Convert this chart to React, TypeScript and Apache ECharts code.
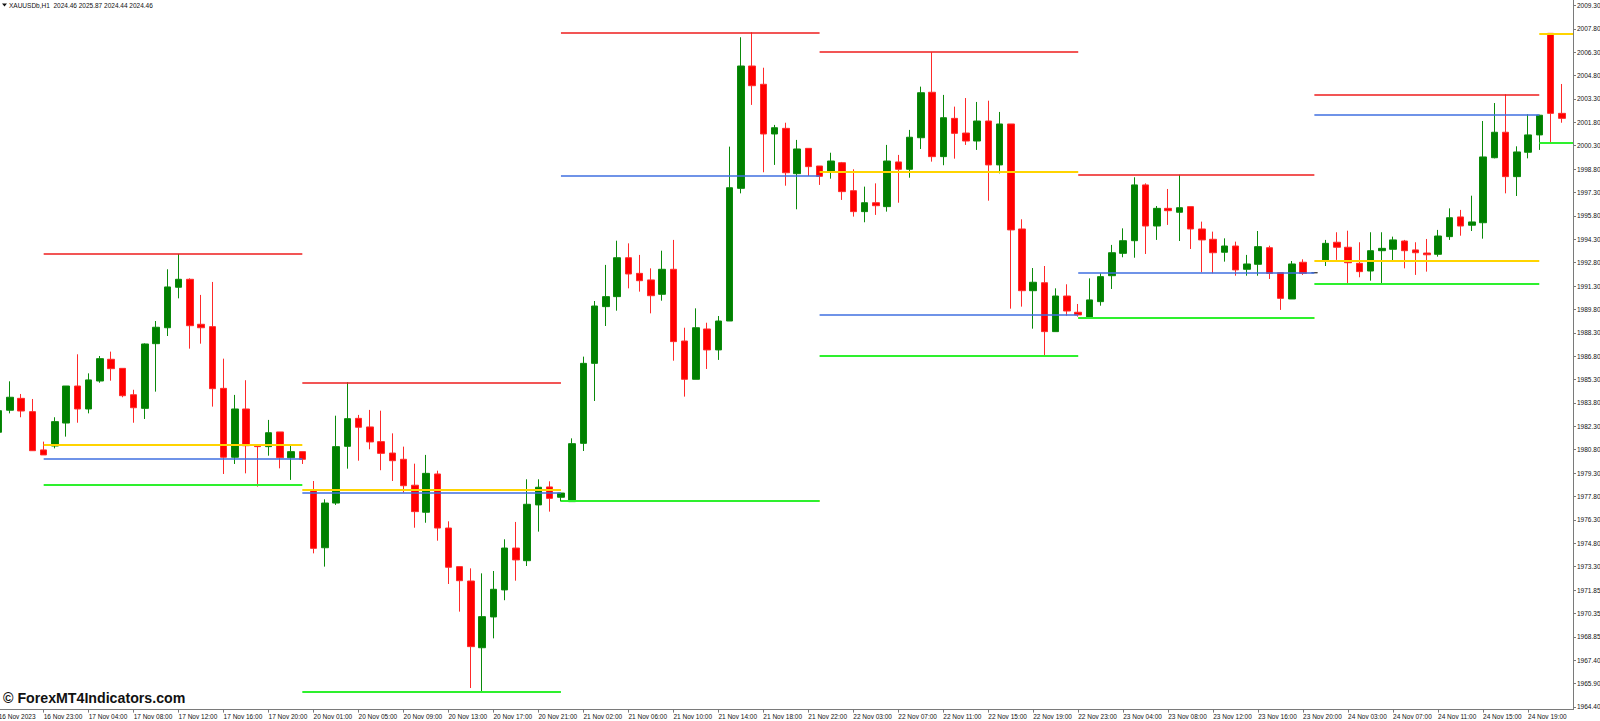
import React, { useEffect, useRef } from "react";
import * as echarts from "echarts";

// ---- candle data (H1 XAUUSD), bar index 0..139 ----
const barOpen = [
  1981.98, 1983.39, 1984.15, 1983.30, 1980.85, 1981.10, 1982.57, 1984.94, 1983.47, 1985.26,
  1986.65, 1986.07, 1984.38, 1983.51, 1987.65, 1988.67, 1991.26, 1991.77, 1988.89, 1988.74,
  1984.79, 1980.38, 1983.47, 1981.17, 1981.06, 1982.00, 1980.35, 1980.74, 1978.27, 1974.59,
  1977.45, 1981.08, 1982.87, 1982.32, 1981.38, 1980.65, 1980.25, 1978.59, 1976.86, 1979.31,
  1975.85, 1973.38, 1972.46, 1968.19, 1970.16, 1971.89, 1974.57, 1973.76, 1977.33, 1978.48,
  1977.82, 1977.54, 1981.27, 1986.39, 1990.02, 1990.66, 1993.15, 1992.15, 1991.73, 1990.81,
  1992.41, 1987.82, 1985.37, 1988.59, 1987.25, 1989.10, 1997.59, 2005.42, 2004.25, 2001.07,
  2001.43, 1998.53, 2000.15, 1999.02, 1998.62, 1999.23, 1997.44, 1996.10, 1996.67, 1996.42,
  1999.28, 1998.81, 2000.83, 2003.74, 1999.62, 2002.07, 2001.13, 2000.62, 2001.90, 1999.09,
  2001.71, 1994.99, 1991.04, 1991.55, 1988.42, 1990.70, 1989.66, 1989.33, 1990.34, 1992.00,
  1993.43, 1994.24, 1997.81, 1995.18, 1996.31, 1996.06, 1996.42, 1994.99, 1994.33, 1993.50,
  1993.90, 1992.41, 1992.73, 1993.79, 1992.19, 1990.51, 1992.86, 1992.19, 1992.99, 1994.14,
  1993.82, 1992.79, 1992.30, 1993.60, 1993.69, 1994.22, 1993.65, 1993.45, 1993.37, 1994.50,
  1995.76, 1995.23, 1995.39, 1999.55, 2001.18, 1998.34, 1999.90, 2001.01, 2007.51, 2002.39,
];
const barClose = [
  1983.36, 1984.22, 1983.34, 1980.80, 1980.53, 1982.66, 1984.94, 1983.47, 1985.33, 1986.69,
  1986.05, 1984.32, 1983.55, 1987.63, 1988.70, 1991.28, 1991.77, 1988.80, 1988.67, 1984.77,
  1980.38, 1983.47, 1981.12, 1981.06, 1981.95, 1980.35, 1980.74, 1980.25, 1974.55, 1977.45,
  1981.06, 1982.85, 1982.30, 1981.36, 1980.63, 1980.16, 1978.56, 1976.90, 1979.35, 1975.85,
  1973.34, 1972.48, 1968.26, 1970.18, 1971.93, 1974.57, 1973.81, 1977.37, 1978.46, 1977.75,
  1978.09, 1981.25, 1986.39, 1990.06, 1990.66, 1993.15, 1992.11, 1991.68, 1990.72, 1992.41,
  1987.78, 1985.37, 1988.67, 1987.25, 1989.10, 1997.63, 2005.42, 2004.16, 2001.07, 2001.47,
  1998.59, 2000.11, 1998.98, 1998.36, 1999.34, 1997.38, 1996.10, 1996.67, 1996.48, 1999.34,
  1998.81, 2000.86, 2003.71, 1999.62, 2002.11, 2001.11, 2000.62, 2001.90, 1999.09, 2001.71,
  1994.93, 1991.04, 1991.58, 1988.42, 1990.70, 1989.74, 1989.49, 1990.45, 1991.94, 1993.47,
  1994.24, 1997.81, 1995.18, 1996.31, 1996.16, 1996.35, 1994.99, 1994.29, 1993.47, 1993.90,
  1992.37, 1992.75, 1993.86, 1992.15, 1990.55, 1992.75, 1992.15, 1992.19, 1994.07, 1993.82,
  1992.83, 1992.26, 1993.60, 1993.75, 1994.29, 1993.60, 1993.47, 1993.34, 1994.54, 1995.71,
  1995.18, 1995.44, 1999.60, 2001.18, 1998.34, 1999.92, 2001.01, 2002.27, 2002.39, 2002.07,
];
const barLow = [
  1981.74, 1983.19, 1982.94, 1980.78, 1980.53, 1980.95, 1981.70, 1982.59, 1983.19, 1985.15,
  1985.28, 1984.22, 1982.59, 1982.83, 1984.58, 1988.14, 1990.55, 1987.33, 1987.65, 1983.62,
  1979.31, 1979.95, 1979.35, 1978.50, 1980.48, 1979.67, 1978.93, 1979.95, 1974.23, 1973.38,
  1977.33, 1979.65, 1980.16, 1980.89, 1979.55, 1978.86, 1978.11, 1975.87, 1976.19, 1975.04,
  1972.27, 1970.50, 1965.61, 1965.38, 1968.79, 1971.23, 1972.48, 1973.42, 1975.62, 1976.90,
  1977.55, 1977.54, 1980.78, 1983.98, 1988.78, 1989.76, 1991.19, 1990.98, 1989.59, 1990.40,
  1986.56, 1984.26, 1985.37, 1986.03, 1986.61, 1989.10, 1997.27, 2002.93, 1998.62, 1999.09,
  1997.76, 1996.25, 1998.38, 1997.81, 1998.21, 1996.85, 1995.78, 1995.42, 1995.89, 1996.10,
  1996.67, 1998.27, 2000.11, 1999.30, 1999.07, 1999.49, 2000.37, 2000.05, 1996.80, 1998.55,
  1989.89, 1990.02, 1988.61, 1986.86, 1988.42, 1989.44, 1989.38, 1989.31, 1990.08, 1991.15,
  1993.18, 1993.15, 1993.39, 1994.29, 1995.25, 1994.22, 1993.71, 1992.22, 1992.15, 1992.90,
  1992.00, 1992.00, 1992.00, 1991.79, 1989.81, 1990.51, 1992.05, 1992.19, 1992.62, 1993.01,
  1991.47, 1991.90, 1991.68, 1991.49, 1992.90, 1992.47, 1992.05, 1992.26, 1993.22, 1994.29,
  1994.56, 1994.86, 1994.37, 1999.51, 1997.27, 1997.10, 1999.51, 2000.05, 2000.51, 2001.79,
];
const barHigh = [
  1983.73, 1985.24, 1984.43, 1984.11, 1981.38, 1982.94, 1984.94, 1986.97, 1985.75, 1986.86,
  1987.14, 1986.07, 1984.70, 1987.67, 1989.10, 1992.41, 1993.39, 1991.83, 1990.77, 1991.60,
  1986.69, 1984.37, 1985.31, 1981.17, 1982.77, 1982.00, 1981.10, 1980.74, 1978.86, 1977.69,
  1983.04, 1985.18, 1983.09, 1983.41, 1983.36, 1981.91, 1981.06, 1979.97, 1980.53, 1979.52,
  1976.28, 1973.38, 1973.27, 1972.95, 1973.10, 1975.13, 1976.24, 1978.97, 1978.97, 1978.84,
  1978.09, 1981.59, 1986.82, 1990.38, 1992.69, 1994.24, 1994.07, 1993.33, 1992.47, 1993.60,
  1994.29, 1988.67, 1989.91, 1988.99, 1989.42, 2000.26, 2007.26, 2007.58, 2005.31, 2001.65,
  2001.79, 2000.69, 2000.15, 1999.02, 1999.87, 1999.28, 1998.81, 1997.70, 1997.91, 2000.37,
  1999.73, 2001.33, 2004.10, 2006.30, 2003.57, 2002.82, 2003.37, 2003.12, 2003.20, 2002.48,
  2001.71, 1995.61, 1992.49, 1992.62, 1991.19, 1991.45, 1990.19, 1991.83, 1992.15, 1993.97,
  1995.03, 1998.30, 1997.91, 1996.46, 1997.55, 1998.46, 1996.42, 1995.46, 1994.82, 1994.39,
  1994.18, 1993.33, 1994.86, 1993.92, 1992.19, 1992.94, 1993.05, 1992.19, 1994.29, 1994.78,
  1994.88, 1994.14, 1994.78, 1994.78, 1994.50, 1994.29, 1994.14, 1994.35, 1994.93, 1996.31,
  1996.21, 1997.12, 2001.90, 2003.05, 2003.61, 2000.28, 2002.33, 2002.30, 2007.51, 2004.27,
];

// ---- daily level segments (bar index where each drawn segment starts / ends) ----
const segStart = [4, 27, 50, 73, 96, 117, 137];
const segEnd = [27, 50, 73, 96, 117, 137, 140];
const dayHigh = [1993.39, 1985.18, 2007.58, 2006.32, 1998.48, 2003.61, null];
const dayOpen = [1981.15, 1978.27, 1977.58, 1998.64, 1989.34, 1992.96, 2007.47];
const dayClose = [1980.27, 1978.11, 1998.38, 1989.53, 1992.19, 2002.27, null];
const dayLow = [1978.61, 1965.36, 1977.58, 1986.88, 1989.34, 1991.49, 2000.51];

// ---- axis labels ----
const timeLabels = [
  "16 Nov 2023", "16 Nov 23:00", "17 Nov 04:00", "17 Nov 08:00", "17 Nov 12:00", "17 Nov 16:00",
  "17 Nov 20:00", "20 Nov 01:00", "20 Nov 05:00", "20 Nov 09:00", "20 Nov 13:00", "20 Nov 17:00",
  "20 Nov 21:00", "21 Nov 02:00", "21 Nov 06:00", "21 Nov 10:00", "21 Nov 14:00", "21 Nov 18:00",
  "21 Nov 22:00", "22 Nov 03:00", "22 Nov 07:00", "22 Nov 11:00", "22 Nov 15:00", "22 Nov 19:00",
  "22 Nov 23:00", "23 Nov 04:00", "23 Nov 08:00", "23 Nov 12:00", "23 Nov 16:00", "23 Nov 20:00",
  "24 Nov 03:00", "24 Nov 07:00", "24 Nov 11:00", "24 Nov 15:00", "24 Nov 19:00",
];
const timeLabelBars = timeLabels.map((_, k) => k * 4);

const priceLabels = [
  "1964.40", "1965.90", "1967.40", "1968.85", "1970.35", "1971.85", "1973.30", "1974.80",
  "1976.30", "1977.80", "1979.30", "1980.80", "1982.30", "1983.80", "1985.30", "1986.80",
  "1988.30", "1989.80", "1991.30", "1992.80", "1994.30", "1995.80", "1997.30", "1998.80",
  "2000.30", "2001.80", "2003.30", "2004.80", "2006.30", "2007.80", "2009.30",
];
const priceTickLow = 1964.4;
const priceTickHigh = 2009.3;
const priceTickStep = (priceTickHigh - priceTickLow) / (priceLabels.length - 1);
const priceTickValues = priceLabels.map((_, k) => priceTickLow + k * priceTickStep);

const headerText = "XAUUSDb,H1  2024.46 2025.87 2024.44 2024.46";
const watermark = "\u00A9 ForexMT4Indicators.com";

const FONT = "'Liberation Sans', Arial, sans-serif";

function segData(values: (number | null)[]) {
  const out: any[] = [];
  values.forEach((v, k) => {
    if (v === null) return;
    out.push({ coords: [[segStart[k], v], [segEnd[k], v]] });
  });
  return out;
}

export default function App() {
  const ref = useRef<HTMLDivElement>(null);
  useEffect(() => {
    if (!ref.current) return;
    const chart = echarts.init(ref.current, undefined, { renderer: "svg" });
    const candles = barOpen.map((o, i) => [i, o, barClose[i], barLow[i], barHigh[i]]);
    const lineSeries = (name: string, values: (number | null)[], color: string, width: number, z: number) => ({
      type: "lines",
      name,
      coordinateSystem: "cartesian2d",
      polyline: false,
      silent: true,
      z,
      lineStyle: { color, width, opacity: 1 },
      data: segData(values),
    });
    chart.setOption({
      animation: false,
      backgroundColor: "#ffffff",
      grid: {
        left: -1.3,
        top: 0,
        right: 27,
        bottom: 11.4,
        containLabel: false,
        outerBoundsMode: "none",
      },
      xAxis: {
        type: "value",
        min: 0,
        max: 140.0,
        splitLine: { show: false },
        axisLine: { show: true, onZero: false, lineStyle: { color: "#7a7a7a", width: 1 } },
        axisTick: {
          show: true,
          length: 3,
          customValues: timeLabelBars,
          lineStyle: { color: "#7a7a7a" },
        },
        axisLabel: {
          show: true,
          customValues: timeLabelBars,
          formatter: (v: number) => timeLabels[Math.round(v / 4)] ?? "",
          align: "left",
          margin: 3,
          fontSize: 6.5,
          fontFamily: FONT,
          color: "#111",
          hideOverlap: false,
          showMinLabel: true,
        },
      },
      yAxis: {
        type: "value",
        position: "right",
        min: 1964.23,
        max: 2009.645,
        scale: true,
        splitLine: { show: false },
        axisLine: { show: true, onZero: false, lineStyle: { color: "#7a7a7a", width: 1 } },
        axisTick: {
          show: true,
          length: 3,
          customValues: priceTickValues,
          lineStyle: { color: "#7a7a7a" },
        },
        axisLabel: {
          show: true,
          customValues: priceTickValues,
          formatter: (v: number) => priceLabels[Math.round((v - priceTickLow) / priceTickStep)] ?? "",
          margin: 4,
          fontSize: 6.5,
          fontFamily: FONT,
          color: "#111",
          hideOverlap: false,
        },
      },
      series: [
        {
          type: "candlestick",
          name: "XAUUSDb",
          encode: { x: 0, y: [1, 2, 3, 4] },
          data: candles,
          barWidth: 7,
          clip: true,
          z: 2,
          itemStyle: {
            color: "#008000",
            color0: "#ff0000",
            borderColor: "#0a8a0a",
            borderColor0: "#ff2a2a",
            borderColorDoji: "#404040",
            borderWidth: 1,
          },
        },
        lineSeries("high", dayHigh, "#ee1c1c", 1.6, 3),
        lineSeries("close", dayClose, "#3f6fe0", 1.6, 3),
        lineSeries("open", dayOpen, "#ffd400", 2, 4),
        lineSeries("low", dayLow, "#2ef02e", 2, 5),
      ],
      graphic: [
        {
          type: "polygon",
          shape: { points: [[2, 3.5], [7, 3.5], [4.5, 6.5]] },
          style: { fill: "#111" },
        },
        {
          type: "text",
          left: 9,
          top: 1.5,
          style: { text: headerText, fontSize: 6.5, fontFamily: FONT, fill: "#111" },
        },
        {
          type: "text",
          left: 3,
          top: 691,
          style: { text: watermark, fontSize: 14.2, fontWeight: "bold", fontFamily: FONT, fill: "#111" },
        },
      ],
    });
    return () => chart.dispose();
  }, []);
  return <div ref={ref} style={{ position: "absolute", left: 0, top: 0, width: 1600, height: 721 }} />;
}
